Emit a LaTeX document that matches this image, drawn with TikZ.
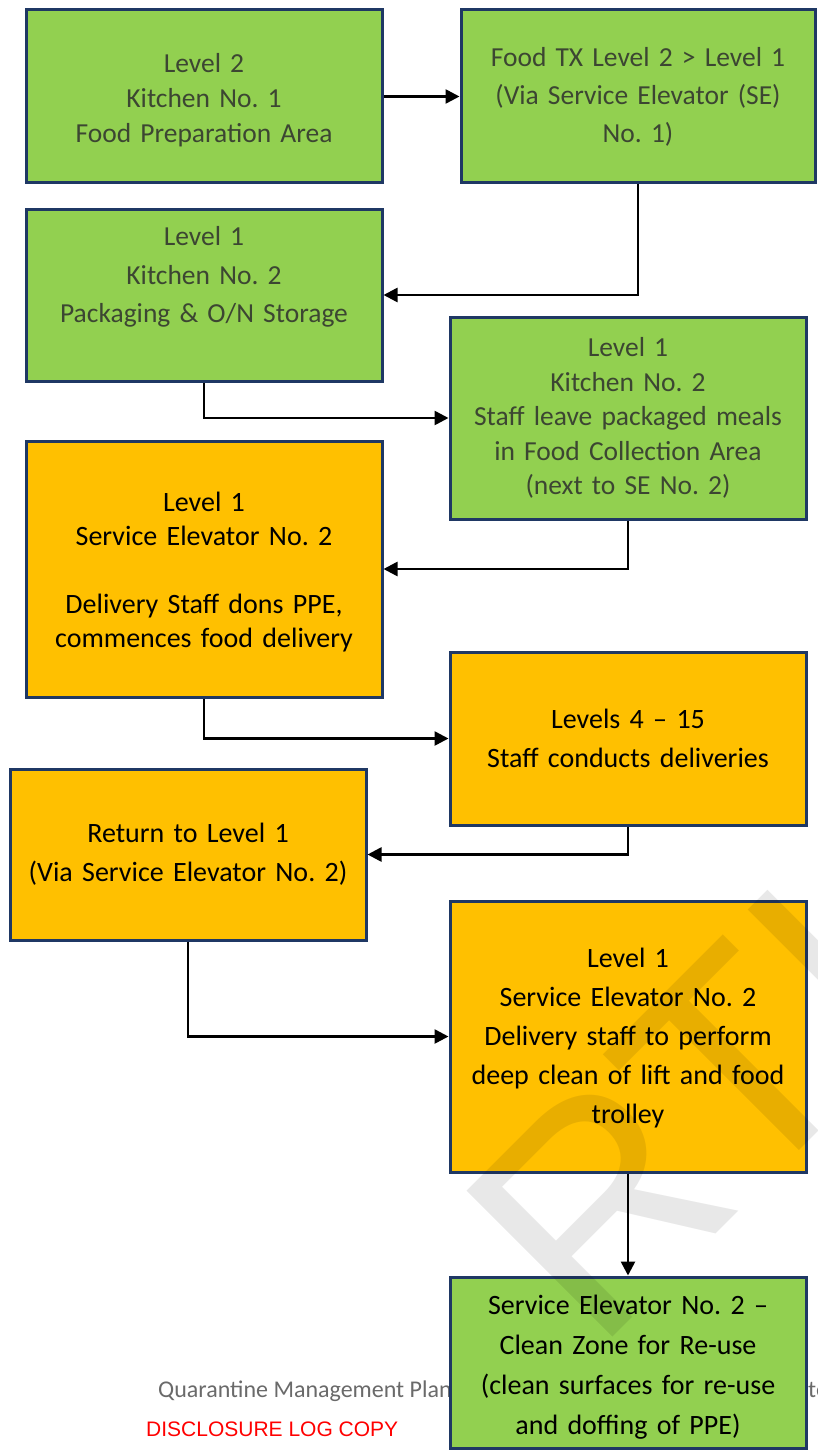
\documentclass[tikz,border=0pt]{standalone}
\usepackage{fontspec}
\setmainfont{Carlito}
\newfontfamily\arialfont{Liberation Sans}
\usetikzlibrary{arrows.meta}
\frenchspacing
\definecolor{boxgreen}{HTML}{92D050}
\definecolor{boxorange}{HTML}{FFC000}
\definecolor{boxborder}{HTML}{1F3864}
\definecolor{greytext}{HTML}{3C4632}
\definecolor{footgrey}{HTML}{6A6A6A}
\tikzset{
  flowbox/.style={draw=boxborder, line width=3pt, minimum width=356pt, inner sep=0pt},
  greenbox/.style={flowbox, fill=boxgreen},
  orangebox/.style={flowbox, fill=boxorange},
  boxtext/.style={align=center, inner sep=0pt, text width=340pt},
  flowarrow/.style={line width=2.6pt, -{Triangle[length=14pt,width=14pt]}},
}
\begin{document}
\begin{tikzpicture}[x=1pt,y=-1pt]
\useasboundingbox (0,0) rectangle (818,1450);
\fill[white] (0,0) rectangle (818,1450);

% footer texts
\node[anchor=base west, inner sep=0pt, text=footgrey, font=\fontsize{24}{28}\selectfont] (foot) at (158,1397) {Quarantine Management Plan};
\node[anchor=base west, inner sep=0pt, text=footgrey, font=\fontsize{24}{28}\selectfont] (footb) at (808,1397) {te};
\node[anchor=base west, inner sep=0pt, text=red, font=\arialfont\fontsize{21}{25}\selectfont] (disc) at (146,1436) {DISCLOSURE LOG COPY};

% boxes
\node[greenbox, minimum height=173pt] (A) at (204,96.5) {};
\node[boxtext, text=greytext, font=\fontsize{27.5}{35}\selectfont] (At) at ([yshift=-3.5pt]A.center)
  {Level 2\\Kitchen No. 1\\Food Preparation Area};
\node[greenbox, minimum width=354pt, minimum height=173pt] (B) at (638,96.5) {};
\node[boxtext, text=greytext, font=\fontsize{27.5}{38}\selectfont] (Bt) at (B.center)
  {Food TX Level 2 > Level 1\\(Via Service Elevator (SE)\\No. 1)};
\node[greenbox, minimum height=172pt] (C) at (204,295) {};
\node[boxtext, text=greytext, font=\fontsize{27.5}{38.5}\selectfont] (Ct) at ([yshift=18pt]C.center)
  {Level 1\\Kitchen No. 2\\Packaging \& O/N Storage};
\node[greenbox, minimum height=202pt] (D) at (628,418) {};
\node[boxtext, text=greytext, font=\fontsize{27.5}{34.5}\selectfont] (Dt) at (D.center)
  {Level 1\\Kitchen No. 2\\Staff leave packaged meals\\in Food Collection Area\\(next to SE No. 2)};
\node[orangebox, minimum height=256pt] (E) at (204,569) {};
\node[boxtext, text=black, font=\fontsize{28}{34}\selectfont] (Et) at ([yshift=-3.5pt]E.center)
  {Level 1\\Service Elevator No. 2\\\mbox{}\\Delivery Staff dons PPE,\\commences food delivery};
\node[orangebox, minimum height=173pt] (F) at (628,738.5) {};
\node[boxtext, text=black, font=\fontsize{28}{39}\selectfont] (Ft) at (F.center)
  {Levels 4 -- 15\\Staff conducts deliveries};
\node[orangebox, minimum height=171pt] (G) at (188,854.5) {};
\node[boxtext, text=black, font=\fontsize{28}{39}\selectfont] (Gt) at (G.center)
  {Return to Level 1\\(Via Service Elevator No. 2)};
\node[orangebox, minimum height=271pt] (H) at (628,1036.5) {};
\node[boxtext, text=black, font=\fontsize{28}{39}\selectfont] (Ht) at ([yshift=-2pt]H.center)
  {Level 1\\Service Elevator No. 2\\Delivery staff to perform\\deep clean of lift and food\\trolley};
\node[greenbox, minimum height=171pt] (I) at (628,1362.5) {};
\node[boxtext, text=black, font=\fontsize{28}{40}\selectfont] (It) at ([yshift=-5pt]I.center)
  {Service Elevator No. 2 --\\Clean Zone for Re-use\\(clean surfaces for re-use\\and doffing of PPE)};

% connectors
\draw[flowarrow] (A.east) -- (B.west);
\draw[flowarrow] (B.south) |- (C.east);
\draw[flowarrow] (C.south) |- (D.west);
\draw[flowarrow] (D.south) |- (E.east);
\draw[flowarrow] (E.south) |- (F.west);
\draw[flowarrow] (F.south) |- (G.east);
\draw[flowarrow] (G.south) |- (H.west);
\draw[flowarrow] (H.south) -- (I.north);

% watermark
\begin{scope}
\clip (0,0) rectangle (818,1450);
\node[anchor=base west, inner sep=0pt, rotate=45, text=black, opacity=0.09, font=\arialfont\fontsize{300}{300}\selectfont] (wm) at (595,1355) {RTI};
\end{scope}
\end{tikzpicture}
\end{document}
